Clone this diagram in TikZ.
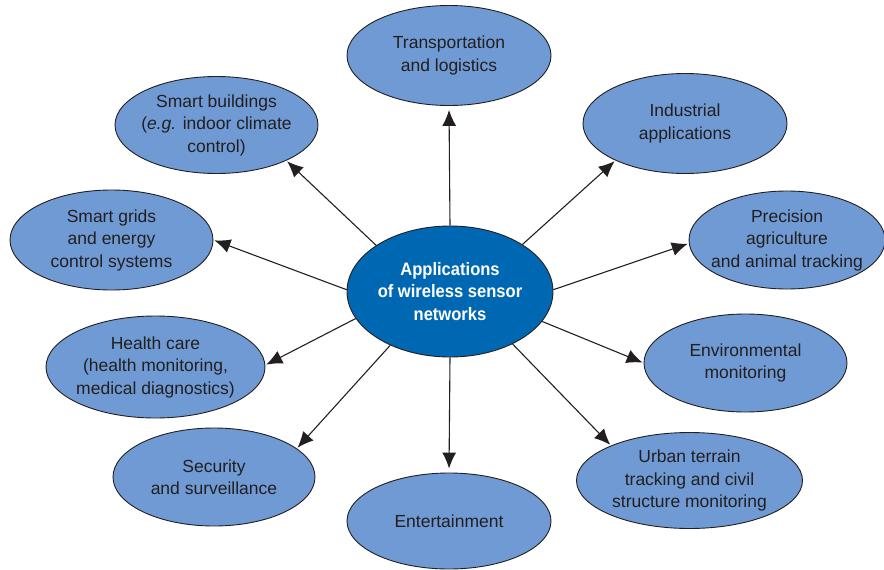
\documentclass[tikz,border=0pt]{standalone}
\usepackage{fontspec}
\setmainfont{Liberation Sans}
\newfontfamily\hubfont{Liberation Sans}[FakeStretch=0.92]
\usetikzlibrary{shapes.geometric,arrows.meta}
\definecolor{appblue}{RGB}{111,154,211}
\definecolor{hubblue}{RGB}{0,104,179}
\definecolor{apptext}{RGB}{35,31,32}
\tikzset{
    app-ellipse/.style = {draw=apptext, fill=appblue, ellipse, line width=0.9pt, inner sep=-14pt, align=center, text=apptext, font=\fontsize{17.5}{22.5}\selectfont, minimum width=204pt, minimum height=98pt},
    hub-ellipse/.style = {app-ellipse, fill=hubblue, text=white, font=\hubfont\bfseries\fontsize{18}{22.5}\selectfont, minimum width=206pt, minimum height=131pt},
    app-arrow/.style = {-{Latex[length=16pt,width=14pt]}, line width=1.1pt, draw=apptext, shorten >=1pt},
}

\begin{document}
\begin{tikzpicture}[x=1pt,y=-1pt]
\useasboundingbox (0,0) rectangle (884,570);
\node[hub-ellipse] (wsn) at (450,291.5) {Applications\\of wireless sensor\\networks};
\node[app-ellipse, minimum height=100pt] (transport) at (449,55.5) {Transportation\\and logistics};
\node[app-ellipse, minimum height=100pt] (industrial) at (685,123.5) {Industrial\\applications};
\node[app-ellipse, minimum width=196pt] (agriculture) at (787,240) {Precision\\agriculture\\and animal tracking};
\node[app-ellipse, minimum width=203pt] (environment) at (745.5,363) {Environmental\\monitoring};
\node[app-ellipse, minimum width=226pt, minimum height=96pt] (urban) at (689.5,480.5) {Urban terrain\\tracking and civil\\structure monitoring};
\node[app-ellipse, minimum height=96pt] (entertainment) at (449,521) {Entertainment};
\node[app-ellipse, minimum width=202pt] (security) at (214,477) {Security\\and surveillance};
\node[app-ellipse, minimum width=219pt, minimum height=102pt] (health) at (155.5,367) {Health care\\(health monitoring,\\medical diagnostics)};
\node[app-ellipse, minimum width=203pt, minimum height=100pt] (grids) at (111.5,240) {Smart grids\\and energy\\control systems};
\node[app-ellipse, minimum width=203pt, minimum height=97pt] (buildings) at (216.5,125) {Smart buildings\\(\textit{e.g.} indoor climate\\control)};

% arrows out of the hub
\draw[app-arrow, shorten >=4pt] (wsn.90) -- (transport.270);
\draw[app-arrow, shorten >=4pt] (wsn.270) -- (entertainment.90);
\foreach \from/\to/\at in {33/industrial/208, 1/agriculture/182, 342/environment/180, 320/urban/156,
    222/security/19, 196/health/1, 179/grids/0, 148/buildings/333}
    \draw[app-arrow] (wsn.\from) -- (\to.\at);
\end{tikzpicture}
\end{document}
